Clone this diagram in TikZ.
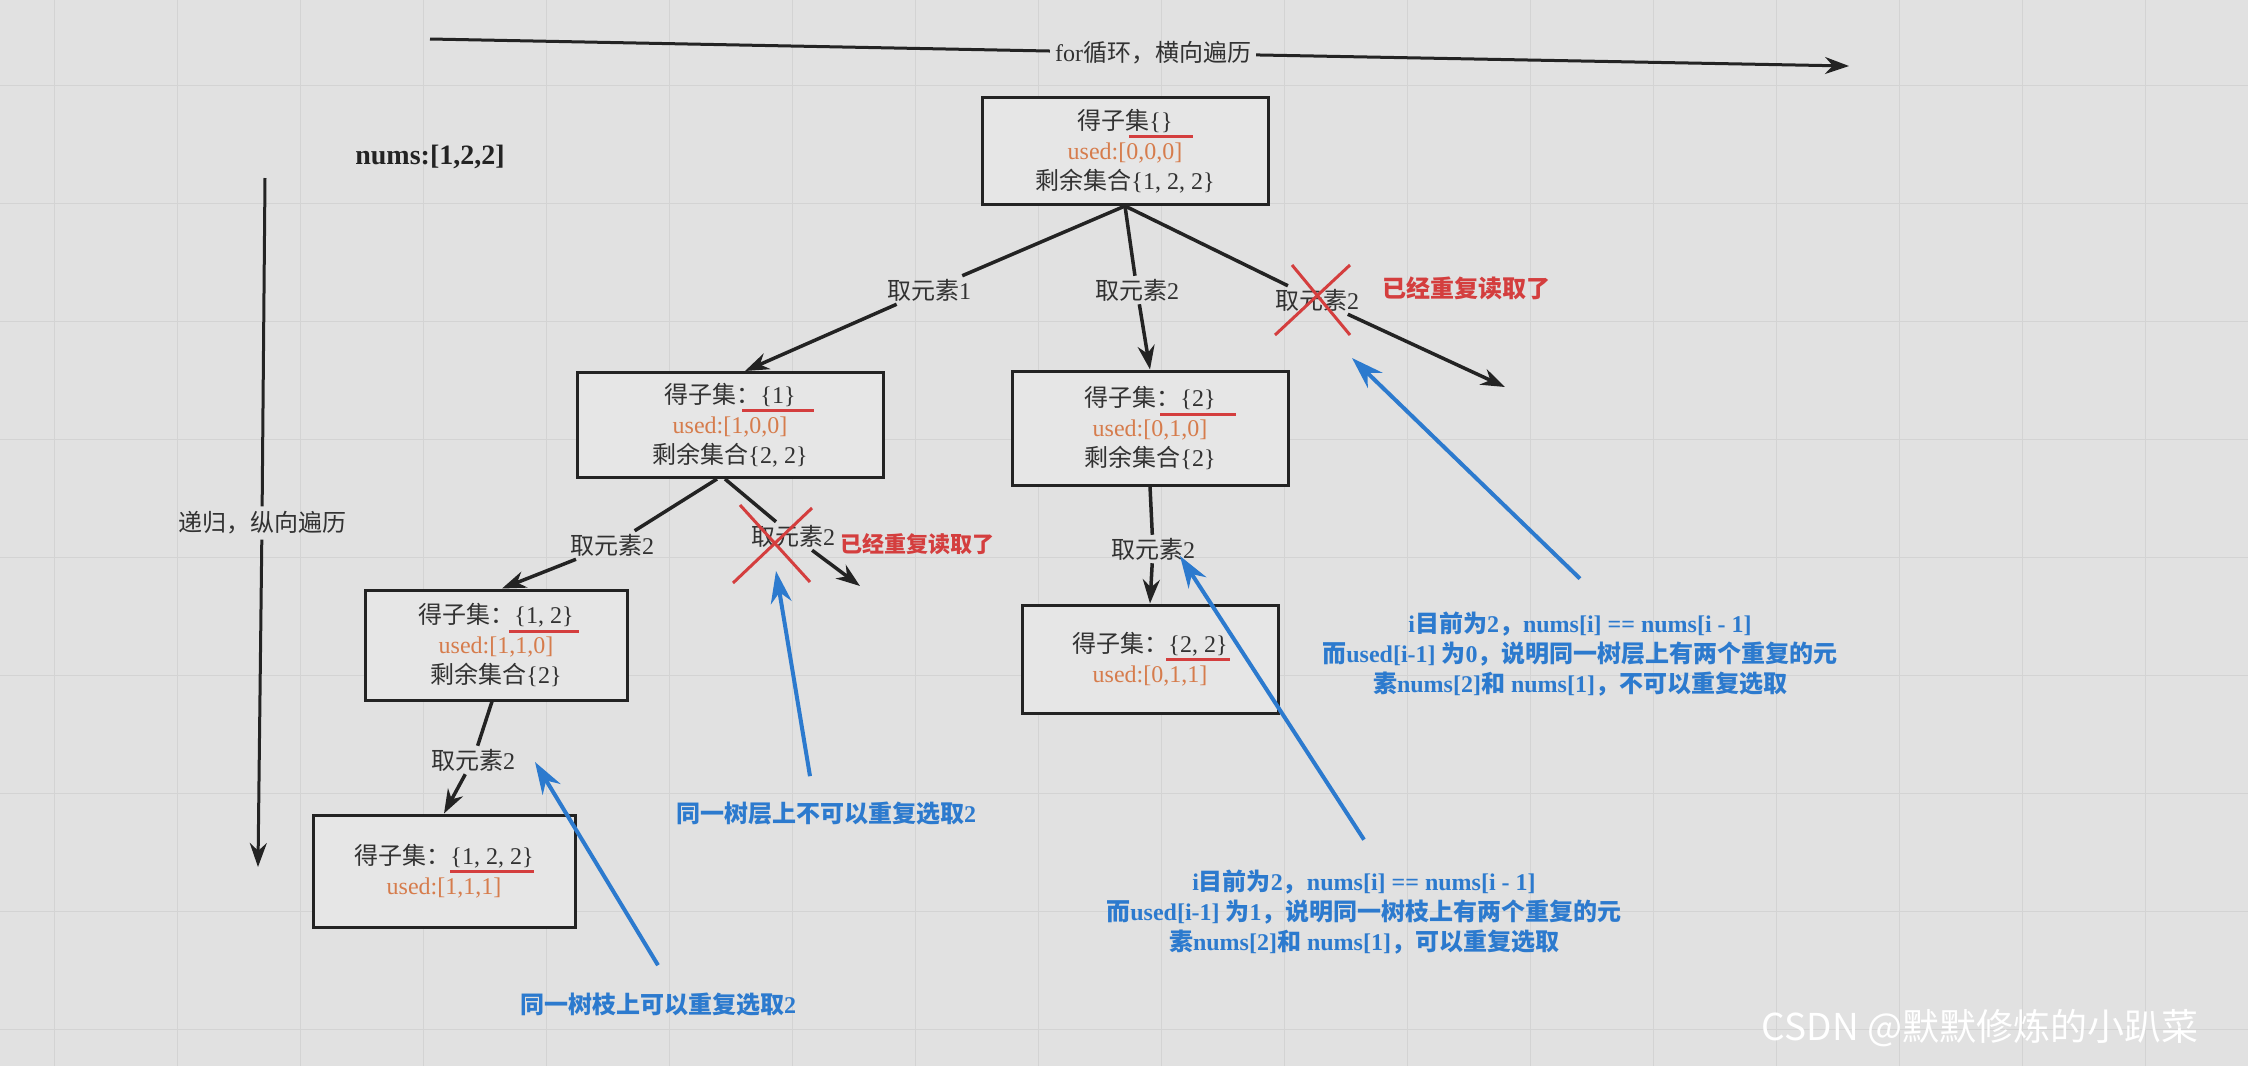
\documentclass[tikz,border=0pt]{standalone}
\usepackage{fontspec}
\setmainfont{Liberation Serif}
\newfontfamily\cjk{Noto Sans CJK SC}
\usetikzlibrary{positioning, arrows.meta}

\definecolor{bgc}{RGB}{225,225,225}
\definecolor{boxc}{RGB}{230,230,230}
\definecolor{gridc}{RGB}{211,211,211}
\definecolor{inkc}{RGB}{35,35,35}
\definecolor{txtc}{RGB}{50,50,50}
\definecolor{usedc}{RGB}{214,124,76}
\definecolor{crossc}{RGB}{212,62,62}
\definecolor{notec}{RGB}{44,122,206}

\newcommand\zh[1]{{\cjk #1}}
\newsavebox\ulbox
\newcommand\redul[2][6pt]{\sbox\ulbox{#2}\leavevmode\rlap{\color{crossc}\hspace*{\dimexpr-#1/2\relax}\rule[-9pt]{\dimexpr\wd\ulbox+#1\relax}{3pt}}\usebox\ulbox}

\begin{document}
\begin{tikzpicture}[
    x=1pt, y=-1pt,
    >={Stealth[length=24pt,width=17pt]},
    setbox/.style={draw=inkc, line width=3pt, fill=boxc, align=center, text=txtc,
        font=\fontsize{24}{30}\selectfont, inner sep=0pt},
    pick/.style={text=txtc, font=\fontsize{24}{28}\selectfont, inner sep=3pt},
    dup/.style={text=crossc, font=\fontsize{24}{28}\selectfont\bfseries, inner sep=2pt},
    note/.style={text=notec, align=center, font=\fontsize{24}{30}\selectfont\bfseries, inner sep=2pt},
    axislbl/.style={text=txtc, font=\fontsize{24}{28}\selectfont, inner sep=5pt},
    treeedge/.style={draw=inkc, line width=3.5pt},
    axis/.style={draw=inkc, line width=3pt},
    notearrow/.style={draw=notec, line width=4pt, -{Stealth[length=32pt,width=21pt]}},
    cross/.style={draw=crossc, line width=3pt},
    gridline/.style={draw=gridc, line width=1pt}
]

    % --- SCREEN BACKGROUND ---
    \fill[bgc] (0,0) rectangle (2248,1066);
    \useasboundingbox (0,0) rectangle (2248,1066);
    \foreach \gx in {54,177,...,2248} \draw[gridline] (\gx,0) -- (\gx,1066);
    \foreach \gy in {85,203,...,1066} \draw[gridline] (0,\gy) -- (2248,\gy);

    % --- TRAVERSAL AXES ---
    \coordinate (hstart) at (430,39);
    \coordinate (hend) at (1849,66);
    \node[axislbl] (hlbl) at (1153,53) {for\zh{循环，横向遍历}};
    \draw[axis, ->] (hstart) -- (hlbl) -- (hend);

    \coordinate (vstart) at (265,178);
    \coordinate (vend) at (258,867);
    \node[axislbl] (vlbl) at (262,523) {\zh{递归，纵向遍历}};
    \draw[axis, ->] (vstart) -- (vlbl) -- (vend);

    \node[text=inkc, font=\fontsize{28}{30}\selectfont\bfseries] (nums) at (430,157) {nums:[1,2,2]};

    % --- SUBSET BOXES ---
    \node[setbox, minimum width=286pt, minimum height=107pt] (root) at (1125,151)
        {\zh{得子集}\redul[40pt]{\{\}}\\ \textcolor{usedc}{used:[0,0,0]}\\ \zh{剩余集合}\{1, 2, 2\}};
    \node[setbox, minimum width=306pt, minimum height=105pt] (b1) at (730,425)
        {\zh{得子集：}\redul[36pt]{\{1\}}\\ \textcolor{usedc}{used:[1,0,0]}\\ \zh{剩余集合}\{2, 2\}};
    \node[setbox, minimum width=276pt, minimum height=114pt] (b2) at (1150,428)
        {\zh{得子集：}\redul[40pt]{\{2\}}\\ \textcolor{usedc}{used:[0,1,0]}\\ \zh{剩余集合}\{2\}};
    \node[setbox, minimum width=262pt, minimum height=110pt] (b12) at (496,645)
        {\zh{得子集：}\redul[11pt]{\{1, 2\}}\\ \textcolor{usedc}{used:[1,1,0]}\\ \zh{剩余集合}\{2\}};
    \node[setbox, minimum width=256pt, minimum height=108pt] (b22) at (1150,659)
        {\zh{得子集：}\redul[4pt]{\{2, 2\}}\\ \textcolor{usedc}{used:[0,1,1]}};
    \node[setbox, minimum width=262pt, minimum height=112pt] (b122) at (444,871)
        {\zh{得子集：}\redul[0pt]{\{1, 2, 2\}}\\ \textcolor{usedc}{used:[1,1,1]}};

    % --- PICK LABELS ---
    \node[pick] (pick1) at (929,290) {\zh{取元素}1};
    \node[pick] (pick2) at (1137,290) {\zh{取元素}2};
    \node[pick] (pick3) at (1317,300) {\zh{取元素}2};
    \node[pick] (pick4) at (612,545) {\zh{取元素}2};
    \node[pick] (pick5) at (793,536) {\zh{取元素}2};
    \node[pick] (pick6) at (1153,549) {\zh{取元素}2};
    \node[pick] (pick7) at (473,760) {\zh{取元素}2};

    \node[dup, right=18pt of pick3, yshift=12pt] (dup1) {\zh{已经重复读取了}};
    \node[dup, font=\fontsize{22}{26}\selectfont\bfseries, right=0pt of pick5, yshift=-8pt] (dup2) {\zh{已经重复读取了}};

    % --- TREE EDGES ---
    \coordinate (cut1) at (1505,387);
    \coordinate (cut2) at (860,586);
    \draw[treeedge, ->] (root.south) -- (pick1) -- ([xshift=15pt]b1.north);
    \draw[treeedge, ->] (root.south) -- (pick2) -- (b2.north);
    \draw[treeedge, ->] (root.south) -- (pick3) -- (cut1);
    \draw[treeedge, ->] ([xshift=-13pt]b1.south) -- (pick4) -- ([xshift=6pt]b12.north);
    \draw[treeedge, ->] ([xshift=-5pt]b1.south) -- (pick5) -- (cut2);
    \draw[treeedge, ->] (b2.south) -- (pick6) -- (b22.north);
    \draw[treeedge, ->] ([xshift=-4pt]b12.south) -- (pick7) -- (b122.north);

    % pruned branches
    \draw[cross] ([shift={(-42,35)}]pick3.center) -- ([shift={(33,-35)}]pick3.center);
    \draw[cross] ([shift={(-25,-35)}]pick3.center) -- ([shift={(33,35)}]pick3.center);
    \draw[cross] ([shift={(-60,47)}]pick5.center) -- ([shift={(19,-28)}]pick5.center);
    \draw[cross] ([shift={(-53,-31)}]pick5.center) -- ([shift={(17,46)}]pick5.center);

    % --- NOTES ---
    \node[note] (note1) at (1580,654)
        {i\zh{目前为}2\zh{，}nums[i] == nums[i - 1]\\
         \zh{而}used[i-1] \zh{为}0\zh{，说明同一树层上有两个重复的元}\\
         \zh{素}nums[2]\zh{和} nums[1]\zh{，不可以重复选取}};
    \node[note] (note2) at (826,814) {\zh{同一树层上不可以重复选取}2};
    \node[note] (note3) at (1364,912)
        {i\zh{目前为}2\zh{，}nums[i] == nums[i - 1]\\
         \zh{而}used[i-1] \zh{为}1\zh{，说明同一树枝上有两个重复的元}\\
         \zh{素}nums[2]\zh{和} nums[1]\zh{，可以重复选取}};
    \node[note] (note4) at (658,1005) {\zh{同一树枝上可以重复选取}2};

    \coordinate (tip1) at (1352,358);
    \coordinate (tip2) at (776,571);
    \coordinate (tip3) at (1180,556);
    \coordinate (tip4) at (535,762);
    \draw[notearrow] ([yshift=31pt]note1.north) -- (tip1);
    \draw[notearrow] ([xshift=-16pt,yshift=24pt]note2.north) -- (tip2);
    \draw[notearrow] ([yshift=28pt]note3.north) -- (tip3);
    \draw[notearrow] ([yshift=26pt]note4.north) -- (tip4);

    \node[text=white, font=\cjk\fontsize{37}{40}\selectfont] (mark) at (1980,1028) {CSDN @默默修炼的小趴菜};

\end{tikzpicture}
\end{document}
